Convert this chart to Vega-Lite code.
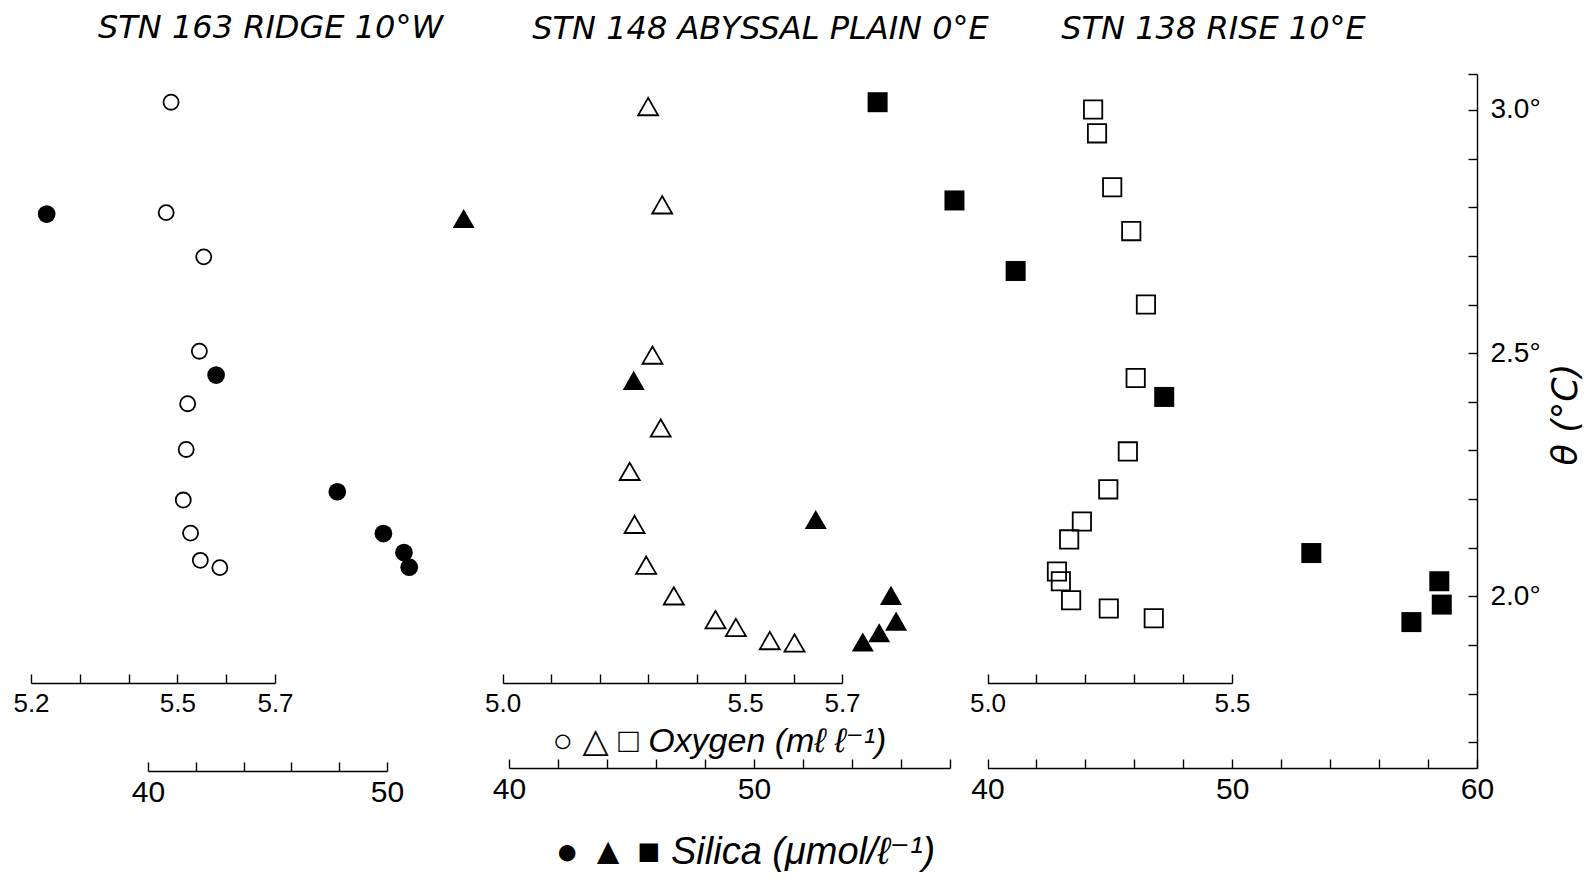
{
  "$schema": "https://vega.github.io/schema/vega-lite/v6.json",
  "width": 1477,
  "height": 694,
  "autosize": {"type": "none"},
  "padding": {"left": 0, "top": 74, "right": 108, "bottom": 113},
  "background": "white",
  "config": {
    "view": {"stroke": null},
    "font": "Liberation Sans",
    "axis": {
      "grid": false,
      "domainColor": "black",
      "domainWidth": 1.4,
      "tickColor": "black",
      "tickWidth": 1.4,
      "tickSize": -9,
      "labelColor": "black",
      "labelFont": "Liberation Sans",
      "labelFlush": false,
      "labelOverlap": false,
      "titleColor": "black",
      "titleFont": "DejaVu Sans",
      "titleFontStyle": "italic",
      "titleFontWeight": "normal",
      "titleFontSize": 32,
      "titleAlign": "center",
      "titleBaseline": "middle",
      "titleLimit": 2000
    }
  },
  "datasets": {
    "o163": [
      {"o": 5.487, "t": 3.016}, {"o": 5.477, "t": 2.789}, {"o": 5.554, "t": 2.698},
      {"o": 5.545, "t": 2.504}, {"o": 5.521, "t": 2.396}, {"o": 5.518, "t": 2.302},
      {"o": 5.512, "t": 2.198}, {"o": 5.527, "t": 2.130}, {"o": 5.547, "t": 2.074},
      {"o": 5.587, "t": 2.059}
    ],
    "s163": [
      {"s": 35.76, "t": 2.786}, {"s": 42.85, "t": 2.455}, {"s": 47.92, "t": 2.215},
      {"s": 49.85, "t": 2.129}, {"s": 50.71, "t": 2.090}, {"s": 50.93, "t": 2.060}
    ],
    "o148": [
      {"o": 5.300, "t": 3.007}, {"o": 5.329, "t": 2.805}, {"o": 5.309, "t": 2.496},
      {"o": 5.326, "t": 2.346}, {"o": 5.262, "t": 2.257}, {"o": 5.272, "t": 2.148},
      {"o": 5.296, "t": 2.064}, {"o": 5.353, "t": 2.001}, {"o": 5.439, "t": 1.952},
      {"o": 5.481, "t": 1.936}, {"o": 5.551, "t": 1.909}, {"o": 5.602, "t": 1.904}
    ],
    "s148": [
      {"s": 38.15, "t": 2.777}, {"s": 45.09, "t": 2.444}, {"s": 52.52, "t": 2.158},
      {"s": 55.59, "t": 2.002}, {"s": 55.80, "t": 1.949}, {"s": 55.11, "t": 1.925},
      {"s": 54.44, "t": 1.906}
    ],
    "o138": [
      {"o": 5.216, "t": 3.001}, {"o": 5.224, "t": 2.952}, {"o": 5.255, "t": 2.841},
      {"o": 5.294, "t": 2.751}, {"o": 5.324, "t": 2.600}, {"o": 5.303, "t": 2.449},
      {"o": 5.287, "t": 2.298}, {"o": 5.247, "t": 2.220}, {"o": 5.193, "t": 2.154},
      {"o": 5.167, "t": 2.117}, {"o": 5.142, "t": 2.051}, {"o": 5.150, "t": 2.031},
      {"o": 5.171, "t": 1.992}, {"o": 5.248, "t": 1.975}, {"o": 5.340, "t": 1.955}
    ],
    "s138": [
      {"s": 35.51, "t": 3.016}, {"s": 38.65, "t": 2.814}, {"s": 41.15, "t": 2.669},
      {"s": 47.22, "t": 2.410}, {"s": 53.23, "t": 2.089}, {"s": 58.46, "t": 2.031},
      {"s": 58.56, "t": 1.983}, {"s": 57.32, "t": 1.947}
    ]
  },
  "encoding": {
    "y": {
      "field": "t",
      "type": "quantitative",
      "scale": {"domain": [1.647, 3.074], "nice": false, "zero": false},
      "axis": {
        "orient": "right",
        "values": [1.7, 1.8, 1.9, 2.0, 2.1, 2.2, 2.3, 2.4, 2.5, 2.6, 2.7, 2.8, 2.9, 3.0, 3.074],
        "labelExpr": "indexof(['2.0','2.5','3.0'], format(datum.value, '.2f') == '3.07' ? 'x' : format(datum.value, '.1f')) >= 0 ? format(datum.value, '.1f') + '°' : ''",
        "labelFontSize": 28,
        "labelPadding": 22,
        "labelBaseline": "middle",
        "title": "θ (°C)",
        "titleAngle": 270,
        "titleX": 88,
        "titleY": 340,
        "titleFontSize": 35
      }
    }
  },
  "layer": [
    {
      "data": {"name": "o163"},
      "mark": {"type": "point", "shape": "circle", "filled": false, "color": "black", "strokeWidth": 1.8, "size": 227, "opacity": 1},
      "encoding": {
        "x": {
          "field": "o", "type": "quantitative",
          "scale": {"domain": [5.2, 5.7], "range": [31, 275], "nice": false, "zero": false},
          "axis": {
            "orient": "bottom", "offset": -85,
            "values": [5.2, 5.3, 5.4, 5.5, 5.6, 5.7],
            "labelExpr": "indexof(['5.2','5.5','5.7'], format(datum.value, '.1f')) >= 0 ? format(datum.value, '.1f') : ''",
            "labelFontSize": 26, "labelPadding": 16,
            "title": "STN 163 RIDGE  10°W", "titleX": 270, "titleY": -656
          }
        }
      }
    },
    {
      "data": {"name": "s163"},
      "mark": {"type": "point", "shape": "circle", "filled": true, "color": "black", "size": 314, "opacity": 1},
      "encoding": {
        "x": {
          "field": "s", "type": "quantitative",
          "scale": {"domain": [40, 50], "range": [148, 387], "nice": false, "zero": false},
          "axis": {
            "orient": "bottom", "offset": 3,
            "values": [40, 42, 44, 46, 48, 50],
            "labelExpr": "indexof(['40','50','60'], format(datum.value, 'd')) >= 0 ? format(datum.value, 'd') : ''",
            "labelFontSize": 30, "labelPadding": 15,
            "title": "○ △ □  Oxygen (mℓ ℓ⁻¹)", "titleX": 719, "titleY": -30,
            "titleFont": "Liberation Sans, DejaVu Sans", "titleFontSize": 34
          }
        }
      }
    },
    {
      "data": {"name": "o148"},
      "mark": {"type": "point", "shape": "triangle-up", "filled": false, "color": "black", "strokeWidth": 1.8, "size": 400, "opacity": 1},
      "encoding": {
        "x": {
          "field": "o", "type": "quantitative",
          "scale": {"domain": [5.0, 5.7], "range": [502.7, 842], "nice": false, "zero": false},
          "axis": {
            "orient": "bottom", "offset": -85,
            "values": [5.0, 5.1, 5.2, 5.3, 5.4, 5.5, 5.6, 5.7],
            "labelExpr": "indexof(['5.0','5.5','5.7'], format(datum.value, '.1f')) >= 0 ? format(datum.value, '.1f') : ''",
            "labelFontSize": 26, "labelPadding": 16,
            "title": "STN 148 ABYSSAL PLAIN  0°E", "titleX": 760, "titleY": -655
          }
        }
      }
    },
    {
      "data": {"name": "s148"},
      "mark": {"type": "point", "shape": "triangle-up", "filled": true, "color": "black", "size": 484, "opacity": 1},
      "encoding": {
        "x": {
          "field": "s", "type": "quantitative",
          "scale": {"domain": [40, 58], "range": [509, 950], "nice": false, "zero": false},
          "axis": {
            "orient": "bottom", "offset": 0,
            "values": [40, 42, 44, 46, 48, 50, 52, 54, 56, 58],
            "labelExpr": "indexof(['40','50','60'], format(datum.value, 'd')) >= 0 ? format(datum.value, 'd') : ''",
            "labelFontSize": 30, "labelPadding": 15,
            "title": "● ▲ ■  Silica (μmol/ℓ⁻¹)", "titleX": 745, "titleY": 84,
            "titleFont": "Liberation Sans, DejaVu Sans", "titleFontSize": 38
          }
        }
      }
    },
    {
      "data": {"name": "o138"},
      "mark": {"type": "point", "shape": "square", "filled": false, "color": "black", "strokeWidth": 1.8, "size": 335, "opacity": 1},
      "encoding": {
        "x": {
          "field": "o", "type": "quantitative",
          "scale": {"domain": [5.0, 5.5], "range": [987.5, 1232], "nice": false, "zero": false},
          "axis": {
            "orient": "bottom", "offset": -85,
            "values": [5.0, 5.1, 5.2, 5.3, 5.4, 5.5],
            "labelExpr": "indexof(['5.0','5.5'], format(datum.value, '.1f')) >= 0 ? format(datum.value, '.1f') : ''",
            "labelFontSize": 26, "labelPadding": 16,
            "title": "STN 138 RISE  10°E", "titleX": 1213, "titleY": -655
          }
        }
      }
    },
    {
      "data": {"name": "s138"},
      "mark": {"type": "point", "shape": "square", "filled": true, "color": "black", "size": 400, "opacity": 1},
      "encoding": {
        "x": {
          "field": "s", "type": "quantitative",
          "scale": {"domain": [40, 60], "range": [987.5, 1477], "nice": false, "zero": false},
          "axis": {
            "orient": "bottom", "offset": 0,
            "values": [40, 42, 44, 46, 48, 50, 52, 54, 56, 58, 60],
            "labelExpr": "indexof(['40','50','60'], format(datum.value, 'd')) >= 0 ? format(datum.value, 'd') : ''",
            "labelFontSize": 30, "labelPadding": 15,
            "title": null
          }
        }
      }
    }
  ],
  "resolve": {"scale": {"x": "independent"}, "axis": {"x": "independent"}}
}
